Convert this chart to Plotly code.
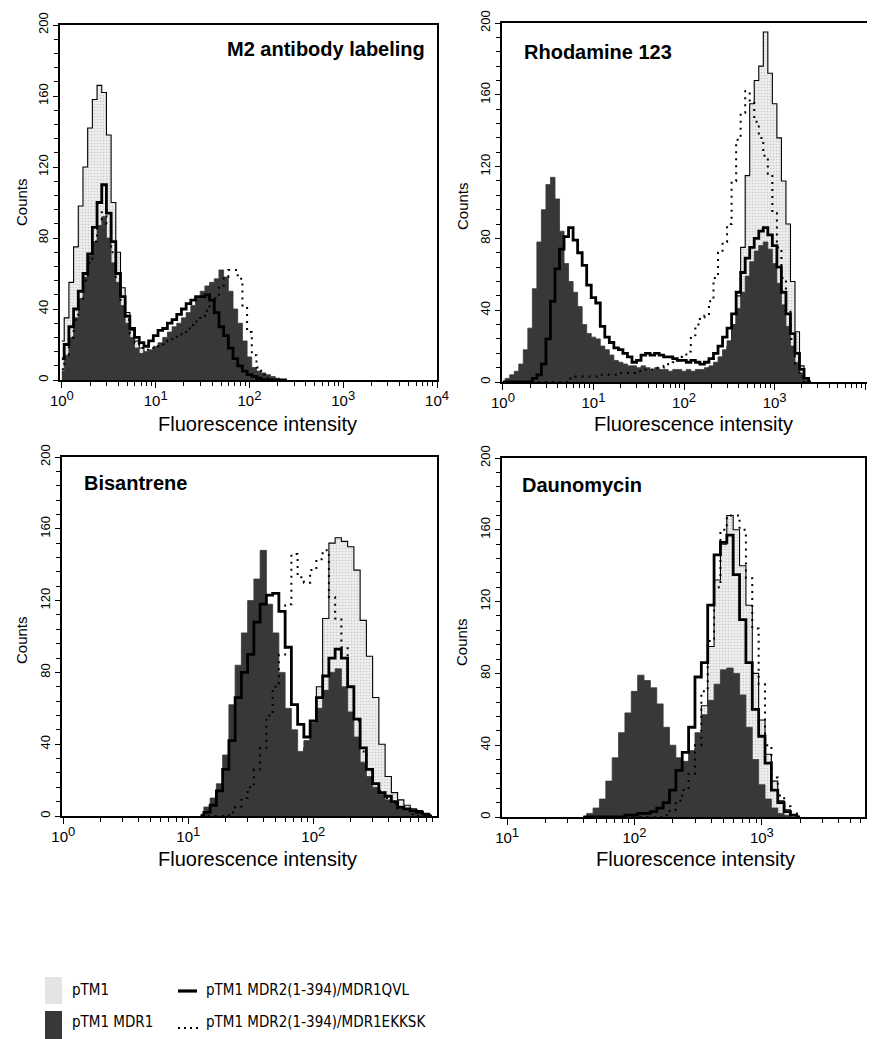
import math
import plotly.graph_objects as go

PAGE_W, PAGE_H = 875, 1039
OFF = 8  # default page margin around the figure
W, H = PAGE_W - OFF, PAGE_H - OFF
STEP = 0.05  # channel width in log10 units

# ---------------- data (counts per channel, channels start at 10**start) -------------
# Panel 1: M2 antibody labeling
m2_start = 0.00
m2_ptm1 = [22, 35, 55, 75, 98, 120, 142, 158, 166, 162,
           138, 100, 72, 52, 38, 28, 22, 18, 14, 10,
           7, 5, 3, 2, 1, 0, 0, 0, 0, 0,
           0, 0, 0, 0, 0, 0, 0, 0, 0, 0,
           0, 0, 0, 0, 0, 0, 0, 0, 0]
m2_mdr1 = [5, 14, 24, 35, 46, 58, 70, 78, 87, 92,
           80, 66, 55, 42, 32, 24, 18, 15, 16, 17,
           19, 21, 24, 27, 30, 32, 35, 38, 42, 46,
           50, 53, 55, 57, 62, 58, 50, 40, 32, 22,
           13, 7, 5, 4, 3, 2, 1, 0, 0]
m2_qvl = [12, 20, 30, 40, 50, 60, 71, 86, 100, 110,
          94, 78, 60, 47, 36, 29, 24, 21, 19, 22,
          25, 28, 29, 32, 34, 37, 40, 43, 45, 47,
          47, 48, 45, 38, 30, 25, 18, 12, 8, 5,
          3, 2, 1, 0, 0, 0, 0, 0, 0]
m2_ekksk = [6, 14, 24, 34, 45, 56, 66, 78, 90, 96,
            88, 72, 58, 45, 34, 26, 21, 18, 17, 17,
            18, 19, 20, 22, 23, 25, 27, 29, 31, 33,
            36, 39, 42, 46, 52, 58, 62, 62, 57, 42,
            27, 14, 7, 3, 1, 0, 0, 0, 0]

# Panel 2: Rhodamine 123
rh_start = 0.00
rh_ptm1 = [0, 0, 0, 0, 0, 0, 0, 0, 0, 0,
           1, 1, 2, 2, 2, 3, 3, 3, 3, 3,
           3, 3, 3, 3, 3, 3, 3, 3, 3, 3,
           3, 3, 3, 3, 3, 3, 3, 3, 3, 3,
           3, 3, 3, 3, 3, 3, 4, 6, 9, 13,
           20, 32, 48, 75, 115, 155, 168, 176, 195, 172,
           155, 136, 112, 88, 56, 28, 9, 2, 0]
rh_mdr1 = [0, 2, 4, 6, 10, 18, 30, 52, 78, 96,
           110, 114, 102, 84, 66, 56, 50, 42, 32, 27,
           25, 24, 20, 18, 15, 12, 11, 10, 9, 9,
           8, 9, 8, 7, 8, 7, 7, 6, 7, 7,
           6, 7, 6, 7, 7, 8, 9, 11, 14, 18,
           23, 32, 41, 50, 59, 67, 73, 76, 78, 74,
           66, 55, 43, 31, 20, 11, 5, 1, 0]
rh_qvl = [0, 0, 0, 0, 0, 0, 0, 2, 4, 10,
          24, 45, 63, 74, 81, 86, 79, 72, 65, 54,
          47, 44, 31, 25, 22, 19, 18, 16, 14, 11,
          12, 15, 16, 15, 16, 15, 14, 14, 13, 12,
          12, 11, 12, 11, 10, 11, 13, 16, 20, 25,
          30, 38, 50, 61, 69, 75, 80, 84, 86, 82,
          76, 64, 50, 38, 27, 16, 7, 2, 0]
rh_ekksk = [0, 0, 0, 0, 0, 0, 0, 0, 0, 0,
            0, 0, 0, 0, 0, 2, 3, 3, 3, 3,
            3, 3, 4, 4, 4, 4, 5, 5, 5, 5,
            6, 6, 7, 7, 8, 8, 9, 10, 11, 12,
            14, 17, 26, 32, 36, 37, 45, 58, 72, 78,
            88, 112, 135, 150, 162, 156, 145, 136, 126, 116,
            94, 75, 58, 40, 24, 10, 3, 0, 0]

# Panel 3: Bisantrene
bi_start = 1.10
bi_ptm1 = [0, 1, 2, 3, 4, 6, 8, 10, 12, 14,
           17, 20, 22, 25, 27, 28, 32, 38, 50, 72,
           110, 152, 155, 153, 150, 137, 109, 89, 66, 40,
           22, 13, 9, 6, 4, 3, 1, 0]
bi_mdr1 = [1, 5, 10, 18, 34, 62, 84, 102, 120, 132,
           148, 118, 102, 80, 60, 48, 36, 42, 52, 60,
           70, 80, 82, 72, 58, 44, 30, 22, 16, 12,
           9, 7, 5, 4, 3, 2, 1, 0]
bi_qvl = [0, 2, 6, 14, 26, 42, 66, 80, 90, 108,
          118, 123, 124, 114, 94, 62, 51, 44, 53, 66,
          78, 88, 93, 88, 72, 54, 38, 26, 18, 13,
          11, 8, 5, 4, 3, 2, 1, 0]
bi_ekksk = [0, 0, 0, 0, 0, 2, 5, 10, 16, 26,
            38, 56, 72, 90, 118, 146, 133, 130, 137, 143,
            148, 122, 110, 94, 72, 53, 36, 25, 18, 14,
            10, 7, 4, 3, 1, 0, 0, 0]

# Panel 4: Daunomycin
da_start = 1.60
da_ptm1 = [0, 0, 0, 0, 0, 0, 0, 0, 0, 0,
           0, 0, 0, 2, 5, 10, 17, 26, 38, 62,
           95, 132, 152, 168, 160, 140, 118, 80, 54, 35,
           20, 9, 4, 1, 0]
da_mdr1 = [0, 2, 5, 10, 20, 33, 47, 58, 70, 79,
           76, 72, 63, 50, 40, 33, 31, 37, 47, 57,
           65, 74, 82, 83, 80, 68, 50, 32, 18, 10,
           5, 2, 1, 0, 0]
da_qvl = [0, 0, 0, 0, 0, 0, 0, 1, 1, 2,
          2, 3, 5, 8, 15, 26, 36, 50, 78, 86,
          118, 146, 153, 157, 135, 110, 86, 60, 45, 30,
          15, 8, 3, 1, 0]
da_ekksk = [0, 0, 0, 0, 0, 0, 0, 0, 0, 0,
            0, 0, 0, 1, 4, 9, 15, 24, 40, 70,
            98, 128, 160, 168, 168, 160, 133, 105, 74, 40,
            22, 12, 6, 2, 0]

panel_titles = ["M2 antibody labeling", "Rhodamine 123", "Bisantrene", "Daunomycin"]
legend_labels = ["pTM1", "pTM1 MDR1", "pTM1 MDR2(1-394)/MDR1QVL", "pTM1 MDR2(1-394)/MDR1EKKSK"]
y_ticks = [0, 40, 80, 120, 160, 200]

# ---------------- layout geometry (page pixels) ----------------
panels = [
    dict(title=panel_titles[0], start=m2_start, ptm1=m2_ptm1, mdr1=m2_mdr1, qvl=m2_qvl, ekksk=m2_ekksk,
         box=(60, 437, 25, 380), xr=(-0.02, 4.0), decades=[0, 1, 2, 3, 4],
         tpos=(427, 49, "right"), counts=(21, 202), xlab=(257, 424)),
    dict(title=panel_titles[1], start=rh_start, ptm1=rh_ptm1, mdr1=rh_mdr1, qvl=rh_qvl, ekksk=rh_ekksk,
         box=(502, 867, 23, 382), xr=(-0.01, 4.02), decades=[0, 1, 2, 3, 4],
         tpos=(522, 52, "left"), counts=(463, 206), xlab=(693, 424)),
    dict(title=panel_titles[2], start=bi_start, ptm1=bi_ptm1, mdr1=bi_mdr1, qvl=bi_qvl, ekksk=bi_ekksk,
         box=(62, 437, 457, 816), xr=(-0.01, 2.99), decades=[0, 1, 2],
         tpos=(82, 483, "left"), counts=(21, 640), xlab=(257, 859)),
    dict(title=panel_titles[3], start=da_start, ptm1=da_ptm1, mdr1=da_mdr1, qvl=da_qvl, ekksk=da_ekksk,
         box=(502, 865, 458, 817), xr=(0.96, 3.81), decades=[1, 2, 3],
         tpos=(520, 485, "left"), counts=(461, 642), xlab=(695, 859)),
]

FONT = "Liberation Sans, Arial, Helvetica, sans-serif"
NARROW = "Liberation Sans Narrow, DejaVu Sans Condensed, Liberation Sans, sans-serif"
LIGHT = "#e9e9e9"
DARK = "#383838"


def px(x):
    return (x - OFF) / W


def py(y):
    return 1 - (y - OFF) / H


fig = go.Figure()
layout = dict(width=W, height=H, margin=dict(l=0, r=0, t=0, b=0, autoexpand=False),
              paper_bgcolor="white", plot_bgcolor="white", showlegend=False,
              font=dict(family=FONT, color="black"))
annotations = []
shapes = []

for i, p in enumerate(panels):
    n = i + 1
    xa = "x" if n == 1 else f"x{n}"
    ya = "y" if n == 1 else f"y{n}"
    xs = [10 ** (p["start"] + k * STEP) for k in range(len(p["ptm1"]))]

    fig.add_trace(go.Scatter(x=xs, y=p["ptm1"], mode="lines", xaxis=xa, yaxis=ya,
                             line=dict(color="black", width=1.1, shape="hvh"),
                             fill="tozeroy", fillcolor=LIGHT,
                             fillpattern=dict(shape=".", bgcolor="#eeeeee", fgcolor="#a8a8a8",
                                              size=3, solidity=0.25),
                             name=legend_labels[0]))
    fig.add_trace(go.Scatter(x=xs, y=p["mdr1"], mode="lines", xaxis=xa, yaxis=ya,
                             line=dict(color=DARK, width=0.8, shape="hvh"),
                             fill="tozeroy", fillcolor=DARK, name=legend_labels[1]))
    fig.add_trace(go.Scatter(x=xs, y=p["qvl"], mode="lines", xaxis=xa, yaxis=ya,
                             line=dict(color="black", width=2.8, shape="hvh"),
                             name=legend_labels[2]))
    fig.add_trace(go.Scatter(x=xs, y=p["ekksk"], mode="lines", xaxis=xa, yaxis=ya,
                             line=dict(color="black", width=2, shape="hvh", dash="2px,5px"),
                             name=legend_labels[3]))

    x0, x1, y0, y1 = p["box"]
    a, b = p["xr"]
    major_vals, major_text, minor_vals = [], [], []
    for d in range(math.floor(a), math.ceil(b) + 1):
        for m in range(1, 10):
            v = m * 10 ** d
            lv = math.log10(v)
            if a - 1e-9 <= lv <= b + 1e-9:
                if m == 1 and d in p["decades"]:
                    major_vals.append(v)
                    major_text.append('10<sup><span style="font-size:13px">%d</span></sup>' % d)
                else:
                    minor_vals.append(v)
    axis_common = dict(showline=True, linecolor="black", linewidth=1.6, mirror=True,
                       showgrid=False, zeroline=False, ticks="outside", tickcolor="black",
                       tickwidth=1.2, automargin=False)
    layout["xaxis" if n == 1 else f"xaxis{n}"] = dict(
        axis_common, type="log", range=[a, b], domain=[px(x0), px(x1)], anchor=ya,
        tickmode="array", tickvals=major_vals, ticktext=major_text, ticklen=6,
        tickfont=dict(size=15, family=FONT),
        minor=dict(tickmode="array", tickvals=minor_vals, ticks="outside", ticklen=4,
                   tickcolor="black", tickwidth=1, showgrid=False))
    layout["yaxis" if n == 1 else f"yaxis{n}"] = dict(
        axis_common, range=[0, 200], domain=[py(y1), py(y0)], anchor=xa,
        tickmode="array", tickvals=y_ticks, tickangle=-90, ticklen=5,
        tickfont=dict(size=13, family=FONT),
        minor=dict(dtick=8, tick0=0, ticks="outside", ticklen=4, tickcolor="black", tickwidth=1))

    tx, ty, anc = p["tpos"]
    annotations.append(dict(text="<b>%s</b>" % p["title"], x=px(tx), y=py(ty), xref="paper", yref="paper",
                            xanchor=anc, yanchor="middle", showarrow=False,
                            font=dict(size=20, family=FONT)))
    cx, cy = p["counts"]
    annotations.append(dict(text="Counts", x=px(cx), y=py(cy), xref="paper", yref="paper",
                            xanchor="center", yanchor="middle", textangle=-90, showarrow=False,
                            font=dict(size=15, family=FONT)))
    lx, ly = p["xlab"]
    annotations.append(dict(text="Fluorescence intensity", x=px(lx), y=py(ly), xref="paper", yref="paper",
                            xanchor="center", yanchor="middle", showarrow=False,
                            font=dict(size=20, family=FONT)))

# ---------------- key ----------------
shapes.append(dict(type="rect", xref="paper", yref="paper", x0=px(45), x1=px(62), y0=py(1004), y1=py(977),
                   fillcolor="#e4e4e4", line=dict(width=0)))
shapes.append(dict(type="rect", xref="paper", yref="paper", x0=px(45), x1=px(62), y0=py(1039), y1=py(1011),
                   fillcolor=DARK, line=dict(width=0)))
shapes.append(dict(type="line", xref="paper", yref="paper", x0=px(178), x1=px(197), y0=py(991), y1=py(991),
                   line=dict(color="black", width=3.2)))
shapes.append(dict(type="line", xref="paper", yref="paper", x0=px(178), x1=px(198), y0=py(1028), y1=py(1028),
                   line=dict(color="black", width=2, dash="2px,4px")))
key_text = [(70, 990, legend_labels[0]), (70, 1022, legend_labels[1]),
            (204, 990, legend_labels[2]), (204, 1022, legend_labels[3])]
for kx, ky, t in key_text:
    annotations.append(dict(text=t, x=px(kx), y=py(ky), xref="paper", yref="paper",
                            xanchor="left", yanchor="middle", showarrow=False,
                            font=dict(size=15, family=NARROW)))

layout["annotations"] = annotations
layout["shapes"] = shapes
fig.update_layout(**layout)
fig.write_html("out.html")
